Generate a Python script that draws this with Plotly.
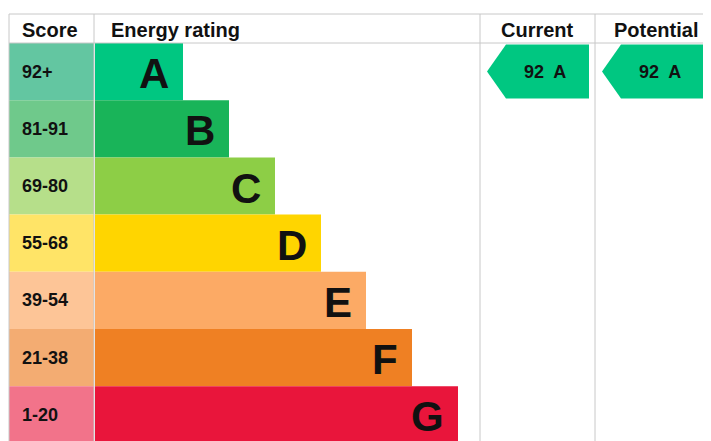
import plotly.graph_objects as go

bands = ["A", "B", "C", "D", "E", "F", "G"]
scores = ["92+", "81-91", "69-80", "55-68", "39-54", "21-38", "1-20"]
bar_ends = [175, 221, 267, 313, 358, 404, 450]
bar_colors = ["#00c781", "#19b459", "#8dce46", "#ffd500", "#fcaa65", "#ef8023", "#e9153b"]
score_colors = ["#63c6a1", "#6fc98b", "#b6df8a", "#ffe467", "#fdc597", "#f3ac72", "#f2738a"]
current = (92, "A")
potential = (92, "A")

W, H = 711, 441
top, head_h, row_h = 6, 29, 57.2
x0, xs, xb, xc, xp, x1 = 1, 86, 87, 472, 587, 708
centers = [top + head_h + row_h * (i + 0.5) for i in range(7)]

fig = go.Figure()
fig.add_trace(go.Bar(y=centers, x=[xs - x0] * 7, base=x0, orientation="h", width=row_h,
                     marker=dict(color=score_colors, line_width=0), hoverinfo="skip"))
fig.add_trace(go.Bar(y=centers, x=[e - xb for e in bar_ends], base=xb, orientation="h", width=row_h,
                     marker=dict(color=bar_colors, line_width=0), hoverinfo="skip"))

font_b = "Liberation Sans"
for i in range(7):
    fig.add_annotation(x=12, y=centers[i], text=f"<b>{scores[i]}</b>", showarrow=False,
                       xanchor="left", font=dict(size=18, color="#111", family=font_b))
    fig.add_annotation(x=bar_ends[i] - 12, y=centers[i] + 2, text=f"<b>{bands[i]}</b>", showarrow=False,
                       xanchor="right", font=dict(size=42, color="#111", family=font_b))

def arrow(col_left, val, band):
    i = bands.index(band)
    c = centers[i]
    l, r = col_left + 7, col_left + 109
    ys = [c, c - 27, c - 27, c + 27, c + 27, c]
    xs_ = [l, l + 19, r, r, l + 19, l]
    fig.add_trace(go.Scatter(x=xs_, y=ys, fill="toself", fillcolor=bar_colors[i], mode="lines",
                             line=dict(width=0, color=bar_colors[i]), hoverinfo="skip"))
    fig.add_annotation(x=(l + 19 + r) / 2 - 3, y=c, text=f"<b>{val}  {band}</b>", showarrow=False,
                       font=dict(size=18, color="#111", family=font_b))

arrow(xc, *current)
arrow(xp, *potential)

grey = "#c8c8c8"
shapes = [dict(type="rect", x0=x0, x1=x1, y0=top, y1=top + head_h + 7 * row_h, line=dict(color=grey, width=1))]
for xv in [xs, xc, xp]:
    shapes.append(dict(type="line", x0=xv, x1=xv, y0=top, y1=top + head_h + 7 * row_h, line=dict(color=grey, width=1)))
shapes.append(dict(type="line", x0=x0, x1=x1, y0=top + head_h, y1=top + head_h, line=dict(color=grey, width=1)))
for s in shapes:
    s["layer"] = "above"
fig.update_layout(shapes=shapes)

for x, t, anc in [(12, "Score", "left"), (101, "Energy rating", "left"), ((xc + xp) / 2, "Current", "center"), ((xp + x1) / 2, "Potential", "center")]:
    fig.add_annotation(x=x, y=top + head_h / 2 + 1, text=f"<b>{t}</b>", showarrow=False, xanchor=anc,
                       font=dict(size=20, color="#111", family=font_b))

fig.update_layout(width=W, height=H, margin=dict(l=0, r=0, t=0, b=0), showlegend=False,
                  plot_bgcolor="white", paper_bgcolor="white", barmode="overlay",
                  xaxis=dict(range=[0, W], visible=False, fixedrange=True),
                  yaxis=dict(range=[H, 0], visible=False, fixedrange=True))
fig.write_html("out.html", config={"displayModeBar": False})
